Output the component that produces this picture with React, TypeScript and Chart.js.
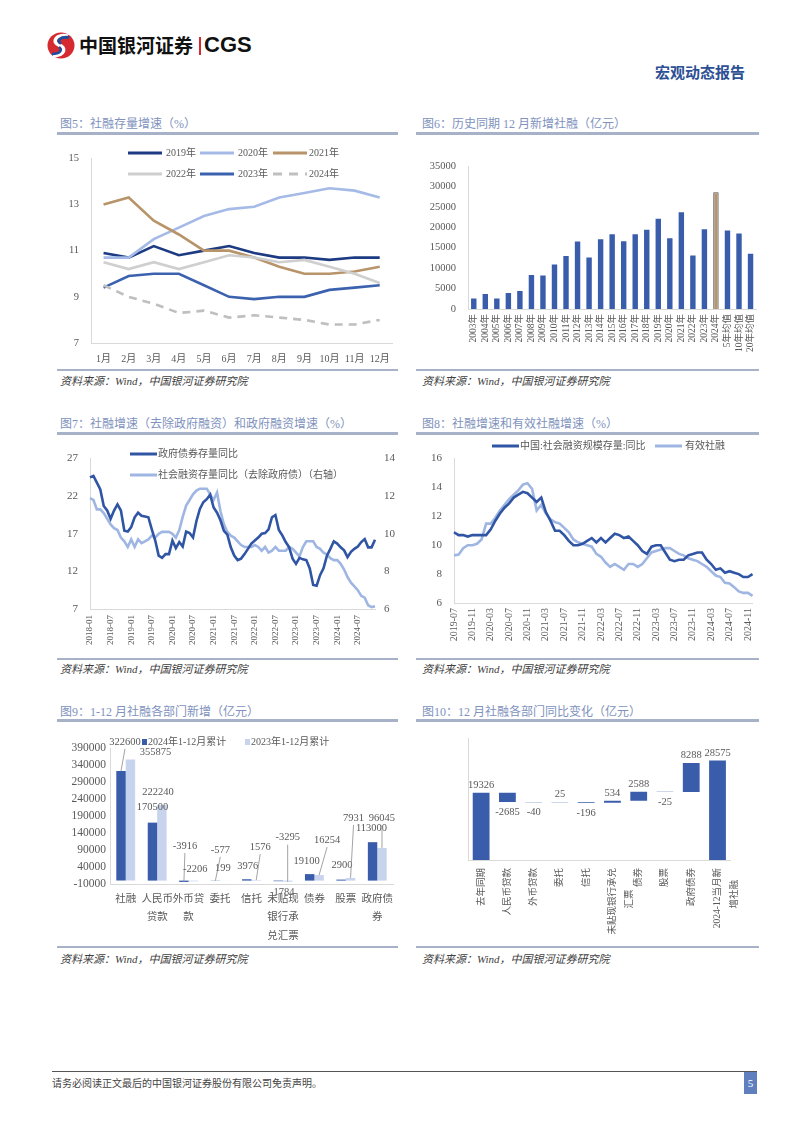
import React, { useEffect, useRef } from "react";
import { Chart, registerables } from "chart.js";
Chart.register(...registerables);

const SERIF = "'Liberation Serif','Noto Sans CJK SC',serif";
const TEXT = "#595959";
const AXIS = "#d9d9d9";
const BLUE = "#3a5dab";
const TITLE_C = "#8092bd";
const LINE_C = "#a7b2c8";

// ---------- 图5 ----------
const months5 = ["1月", "2月", "3月", "4月", "5月", "6月", "7月", "8月", "9月", "10月", "11月", "12月"];
const s2019 = [10.9, 10.7, 11.2, 10.8, 11.0, 11.2, 10.9, 10.7, 10.7, 10.6, 10.7, 10.7];
const s2020 = [10.7, 10.7, 11.5, 12.0, 12.5, 12.8, 12.9, 13.3, 13.5, 13.7, 13.6, 13.3];
const s2021 = [13.0, 13.3, 12.3, 11.7, 11.0, 11.0, 10.7, 10.3, 10.0, 10.0, 10.1, 10.3];
const s2022 = [10.5, 10.2, 10.5, 10.2, 10.5, 10.8, 10.7, 10.5, 10.6, 10.3, 10.0, 9.6];
const s2023 = [9.4, 9.9, 10.0, 10.0, 9.5, 9.0, 8.9, 9.0, 9.0, 9.3, 9.4, 9.5];
const s2024 = [9.5, 9.0, 8.7, 8.3, 8.4, 8.1, 8.2, 8.1, 8.0, 7.8, 7.8, 8.0];

// ---------- 图6 ----------
const years6 = ["2003年", "2004年", "2005年", "2006年", "2007年", "2008年", "2009年", "2010年", "2011年", "2012年", "2013年", "2014年", "2015年", "2016年", "2017年", "2018年", "2019年", "2020年", "2021年", "2022年", "2023年", "2024年", "5年均值", "10年均值", "20年均值"];
const tsfDec6 = [2600, 3700, 2600, 3900, 4400, 8300, 8200, 10900, 13000, 16500, 12600, 17100, 18300, 16600, 18300, 19400, 22100, 17300, 23700, 13100, 19500, 28575, 19200, 18500, 13500];

// ---------- 图7 ----------
const months7: string[] = [];
for (let y = 2018; y <= 2024; y++) for (let m = 1; m <= 12; m++) months7.push(`${y}-${m < 10 ? "0" + m : m}`);
const govBond7 = [
  24.5, 24.7, 23.8, 22.9, 20.7, 20.1, 19.0, 20.1, 20.9, 20.1, 17.4, 17.3,
  17.9, 19.2, 19.8, 19.4, 19.3, 19.2, 17.6, 16.1, 14.1, 13.8, 14.3, 14.3,
  16.1, 15.1, 15.9, 15.3, 17.3, 17.1, 16.5, 18.7, 20.3, 21.2, 21.6, 22.2,
  20.5, 19.8, 18.8, 17.4, 16.9, 15.2, 14.1, 13.5, 13.7, 14.3, 15.0, 15.7,
  16.1, 16.5, 17.0, 17.1, 17.6, 19.2, 19.5, 17.5, 16.8, 15.9, 15.2, 13.7,
  13.0, 13.8, 13.6, 13.5, 12.4, 10.2, 10.1, 11.5, 12.4, 14.1, 15.0, 16.0,
  15.7, 15.2, 14.8, 13.9, 14.6, 15.0, 15.3, 15.9, 16.3, 15.2, 15.2, 16.2,
];
const exGov7 = [
  11.9, 11.8, 11.3, 11.3, 11.1, 10.8, 10.5, 10.3, 10.2, 9.8, 9.6, 9.3,
  9.7, 9.3, 9.7, 9.5, 9.6, 9.7, 9.9, 9.8, 10.0, 10.1, 10.1, 10.1,
  10.0, 9.8, 10.2, 10.9, 11.5, 11.8, 12.1, 12.3, 12.4, 12.4, 12.4, 12.1,
  11.8, 12.2, 11.2, 10.5, 10.1, 9.9, 9.8, 9.6, 9.4, 9.3, 9.3, 9.3,
  9.4, 9.3, 9.1, 9.3, 9.0, 9.1, 9.3, 9.1, 9.1, 9.1, 9.3, 9.2,
  9.0, 8.8, 9.3, 9.6, 9.6, 9.6, 9.3, 9.2, 9.0, 8.9, 8.7, 8.6,
  8.6, 8.4, 8.1, 7.7, 7.4, 7.2, 7.0, 6.7, 6.6, 6.2, 6.1, 6.15,
];

// ---------- 图8 ----------
const months8: string[] = [];
for (let y = 2019; y <= 2024; y++) for (let m = 1; m <= 12; m++) if (y > 2019 || m >= 7) months8.push(`${y}-${m < 10 ? "0" + m : m}`);
const tsf8 = [
  10.9, 10.7, 10.7, 10.6, 10.7, 10.7, 10.7, 10.7, 11.1, 11.7,
  12.2, 12.6, 12.9, 13.3, 13.5, 13.7, 13.6, 13.3, 13.0, 13.3,
  12.3, 11.7, 11.0, 11.0, 10.7, 10.3, 10.0, 10.0, 10.1, 10.3,
  10.5, 10.2, 10.5, 10.2, 10.5, 10.8, 10.7, 10.5, 10.6, 10.3,
  10.0, 9.6, 9.4, 9.9, 10.0, 10.0, 9.5, 9.0, 8.9, 9.0,
  9.0, 9.3, 9.4, 9.5, 9.5, 9.0, 8.7, 8.3, 8.4, 8.1,
  8.2, 8.1, 8.0, 7.8, 7.8, 8.0,
];
const eff8 = [
  9.3, 9.35, 9.8, 10.0, 10.0, 10.1, 10.4, 11.5, 11.5, 11.9,
  12.4, 12.8, 13.2, 13.5, 13.8, 14.2, 14.3, 13.9, 12.4, 12.8,
  12.2, 11.8, 11.6, 11.5, 11.2, 10.9, 10.4, 10.2, 10.1, 10.0,
  9.9, 9.4, 9.2, 8.8, 8.5, 8.7, 8.5, 8.3, 8.7, 8.7,
  8.5, 8.7, 9.1, 9.5, 9.6, 9.7, 9.8, 9.8, 9.6, 9.4,
  9.3, 9.1, 9.0, 8.9, 8.7, 8.5, 8.2, 7.9, 7.8, 7.4,
  7.35, 7.1, 6.8, 6.7, 6.7, 6.5,
];

// ---------- 图9 ----------
const cats9 = [["社融"], ["人民币", "贷款"], ["外币贷", "款"], ["委托"], ["信托"], ["未贴现", "银行承", "兑汇票"], ["债券"], ["股票"], ["政府债", "券"]];
const acc2024 = [322600, 170500, -3916, -577, 3976, -1784, 19100, 2900, 113000];
const acc2023 = [355875, 222240, -2206, 199, 1576, -3295, 16254, 7931, 96045];
// label placement (px offset from bar end, leader line flag)
const lblPos2024 = [[4, -29, 1], [0, -15, 0], [1, -36, 1], [5, -31, 1], [1, -13, 0], [4, 11, 0], [-3, -13, 0], [1, -14, 0], [-1, -14, 0]];
const lblPos2023 = [[25, -7, 0], [-4, -13, 0], [2, -12, 0], [-2, -12, 0], [4, -33, 1], [0, -44, 1], [8, -35, 1], [3, -60, 1], [0, -30, 1]];

// ---------- 图10 ----------
const cats10 = [["去年同期"], ["人民币贷款"], ["外币贷款"], ["委托"], ["信托"], ["未贴现银行承兑", "汇票\u3000\u3000 "], ["债券"], ["股票"], ["政府债券"], ["2024-12当月新", "增社融\u3000 "]];
const base10 = 19326;
const delta10 = [-2685, -40, 25, -196, 534, 2588, -25, 8288];
const total10 = 28575;

function buildWaterfall() {
  const ranges: number[][] = [[0, base10]];
  const values: number[] = [base10];
  let cur = base10;
  for (const d of delta10) {
    ranges.push([Math.min(cur, cur + d), Math.max(cur, cur + d)]);
    values.push(d);
    cur += d;
  }
  ranges.push([0, total10]);
  values.push(total10);
  return { ranges, values };
}

const font = (size: number) => ({ family: SERIF, size });
const plain = (v: any) => String(v);
const noGrid = { display: false, drawTicks: false };
const fixW = (w: number) => (s: any) => { s.width = w; };
const fixH = (h: number) => (s: any) => { s.height = h; };
const base = (padding: any) => ({
  animation: false,
  responsive: false,
  maintainAspectRatio: false,
  layout: { padding },
  plugins: { legend: { display: false }, tooltip: { enabled: false } },
});
const ln = (data: number[], color: string, extra: any = {}) => ({
  data, borderColor: color, backgroundColor: color, borderWidth: 2.6, pointRadius: 0, tension: 0, fill: false, ...extra,
});

const cfg5 = () => ({
  type: "line",
  data: {
    labels: months5,
    datasets: [
      ln(s2019, "#1c3b82"), ln(s2020, "#a5bae6"), ln(s2021, "#b8946a"),
      ln(s2022, "#cfcfcf"), ln(s2023, "#3c62af"), ln(s2024, "#bfbfbf", { borderDash: [8, 6] }),
    ].map((d, i) => ({ ...d, order: 6 - i })),
  },
  options: {
    ...base({ top: 17, right: 7, left: 0, bottom: 0 }),
    scales: {
      x: { offset: true, grid: noGrid, border: { color: AXIS }, ticks: { color: TEXT, font: font(10), padding: 10, maxRotation: 0, autoSkip: false }, afterFit: fixH(27) },
      y: { min: 7, max: 15, grid: noGrid, border: { color: AXIS }, ticks: { stepSize: 2, color: TEXT, font: font(10.5), padding: 12, callback: plain }, afterFit: fixW(31) },
    },
  },
});

const cfg6 = () => ({
  type: "bar",
  data: {
    labels: years6,
    datasets: [{
      data: tsfDec6,
      backgroundColor: years6.map((y) => (y === "2024年" ? "#b39676" : BLUE)),
      borderColor: years6.map((y) => (y === "2024年" ? "#505050" : BLUE)),
      borderWidth: years6.map((y) => (y === "2024年" ? 1 : 0)),
      categoryPercentage: 1,
      barPercentage: 0.47,
    }],
  },
  options: {
    ...base({ top: 26, right: 3, left: 0, bottom: 0 }),
    scales: {
      x: { grid: noGrid, border: { color: AXIS }, ticks: { color: TEXT, font: font(9.5), minRotation: 90, maxRotation: 90, autoSkip: false, padding: 5 }, afterFit: fixH(56) },
      y: { min: 0, max: 35000, grid: noGrid, border: { color: AXIS }, ticks: { stepSize: 5000, color: TEXT, font: font(10.5), padding: 12, callback: plain }, afterFit: fixW(53) },
    },
  },
});

const cfg7 = () => ({
  type: "line",
  data: {
    labels: months7,
    datasets: [
      ln(govBond7, "#2f55a4", { yAxisID: "y", borderWidth: 2.6 }),
      ln(exGov7, "#9fb6e3", { yAxisID: "y1", borderWidth: 2.6 }),
    ],
  },
  options: {
    ...base({ top: 17, right: 0, left: 0, bottom: 0 }),
    scales: {
      x: { grid: noGrid, border: { color: AXIS }, ticks: { color: TEXT, font: font(9), minRotation: 90, maxRotation: 90, autoSkip: false, padding: 6, callback: (_v: any, i: number) => (i % 6 === 0 ? months7[i] : null) }, afterFit: fixH(41) },
      y: { position: "left", min: 7, max: 27, grid: noGrid, border: { color: AXIS }, ticks: { stepSize: 5, color: TEXT, font: font(11), padding: 12, callback: plain }, afterFit: fixW(30) },
      y1: { position: "right", min: 6, max: 14, grid: noGrid, border: { display: false }, ticks: { stepSize: 2, color: TEXT, font: font(11), padding: 9, callback: plain }, afterFit: fixW(25) },
    },
  },
});

const cfg8 = () => ({
  type: "line",
  data: {
    labels: months8,
    datasets: [
      ln(tsf8, "#2f55a4", { borderWidth: 2.6 }),
      ln(eff8, "#9fb6e3", { borderWidth: 2.6 }),
    ],
  },
  options: {
    ...base({ top: 17, right: 4, left: 0, bottom: 0 }),
    scales: {
      x: { grid: noGrid, border: { color: AXIS }, ticks: { color: TEXT, font: font(10), minRotation: 90, maxRotation: 90, autoSkip: false, padding: 5, callback: (_v: any, i: number) => (i % 4 === 0 ? months8[i] : null) }, afterFit: fixH(47) },
      y: { min: 6, max: 16, grid: noGrid, border: { color: AXIS }, ticks: { stepSize: 2, color: TEXT, font: font(11), padding: 12, callback: plain }, afterFit: fixW(39) },
    },
  },
});

const labels9Plugin = {
  id: "labels9",
  afterDatasetsDraw(chart: any) {
    const ctx = chart.ctx;
    ctx.save();
    ctx.font = `10.5px ${SERIF}`;
    ctx.fillStyle = TEXT;
    ctx.textAlign = "center";
    ctx.textBaseline = "middle";
    ctx.strokeStyle = "#8c8c8c";
    ctx.lineWidth = 0.8;
    const pos = [lblPos2024, lblPos2023];
    chart.data.datasets.forEach((ds: any, di: number) => {
      const meta = chart.getDatasetMeta(di);
      meta.data.forEach((bar: any, i: number) => {
        const [dx, dy, lead] = pos[di][i];
        const lx = bar.x + dx;
        const ly = bar.y + dy;
        if (lead) {
          ctx.beginPath();
          ctx.moveTo(lx, ly + 7);
          ctx.lineTo(bar.x, bar.y);
          ctx.stroke();
        }
        ctx.fillText(String(ds.data[i]), lx, ly);
      });
    });
    ctx.restore();
  },
};

const cfg9 = () => ({
  type: "bar",
  data: {
    labels: cats9,
    datasets: [
      { data: acc2024, backgroundColor: BLUE, categoryPercentage: 0.6, barPercentage: 1 },
      { data: acc2023, backgroundColor: "#c8d4ed", categoryPercentage: 0.6, barPercentage: 1 },
    ],
  },
  options: {
    ...base({ top: 23, right: 7, left: 0, bottom: 0 }),
    scales: {
      x: { grid: noGrid, border: { color: AXIS }, ticks: { color: TEXT, font: { family: SERIF, size: 10.5, lineHeight: 1.75 }, padding: 6, maxRotation: 0, autoSkip: false }, afterFit: fixH(63) },
      y: { min: -10000, max: 390000, grid: noGrid, border: { color: AXIS }, ticks: { stepSize: 50000, color: TEXT, font: font(11.5), padding: 4, callback: plain }, afterFit: fixW(50) },
    },
  },
  plugins: [labels9Plugin],
});

const cfg10 = () => {
  const { ranges, values } = buildWaterfall();
  const plugin = {
    id: "labels10",
    afterDatasetsDraw(chart: any) {
      const ctx = chart.ctx;
      ctx.save();
      ctx.font = `10.5px ${SERIF}`;
      ctx.fillStyle = TEXT;
      ctx.textAlign = "center";
      ctx.textBaseline = "middle";
      chart.getDatasetMeta(0).data.forEach((bar: any, i: number) => {
        const top = Math.min(bar.y, bar.base);
        const bottom = Math.max(bar.y, bar.base);
        const v = values[i];
        ctx.fillText(String(v), bar.x, v >= 0 ? top - 7.5 : bottom + 10.5);
      });
      ctx.restore();
    },
  };
  return {
    type: "bar",
    data: {
      labels: cats10,
      datasets: [{ data: ranges, backgroundColor: BLUE, categoryPercentage: 1, barPercentage: 0.64 }],
    },
    options: {
      ...base({ top: 13, right: 6, left: 0, bottom: 0 }),
      scales: {
        x: { grid: noGrid, border: { color: AXIS }, ticks: { color: TEXT, font: { family: SERIF, size: 9.5, lineHeight: 1.8 }, minRotation: 90, maxRotation: 90, autoSkip: false, padding: 8 }, afterFit: fixH(87) },
        y: { min: 0, max: 35000, grid: noGrid, border: { color: AXIS }, ticks: { display: false }, afterFit: fixW(53) },
      },
    },
    plugins: [plugin],
  };
};

function ChartCanvas({ left, top, width, height, make }: { left: number; top: number; width: number; height: number; make: () => any }) {
  const ref = useRef<HTMLCanvasElement | null>(null);
  useEffect(() => {
    const c = new Chart(ref.current as HTMLCanvasElement, make());
    return () => c.destroy();
  }, []);
  return <canvas ref={ref} width={width} height={height} style={{ position: "absolute", left, top, width, height }} />;
}

function LegLine({ x, y, w, color, dash, label, tx, size = 10 }: any) {
  return (
    <>
      <svg style={{ position: "absolute", left: x, top: y - 3 }} width={w} height={6}>
        <line x1={0} y1={3} x2={w} y2={3} stroke={color} strokeWidth={3} strokeDasharray={dash || undefined} />
      </svg>
      <div style={{ position: "absolute", left: tx, top: y - 8, height: 16, lineHeight: "16px", fontFamily: SERIF, fontSize: size, color: TEXT, whiteSpace: "nowrap" }}>{label}</div>
    </>
  );
}

function LegBox({ x, y, color, label }: any) {
  return (
    <>
      <div style={{ position: "absolute", left: x, top: y - 3, width: 5, height: 6, background: color }} />
      <div style={{ position: "absolute", left: x + 6, top: y - 8, height: 16, lineHeight: "16px", fontFamily: SERIF, fontSize: 10, color: TEXT, whiteSpace: "nowrap" }}>{label}</div>
    </>
  );
}

const rows = [
  { titles: ["图5：社融存量增速（%）", "图6：历史同期 12 月新增社融（亿元）"], titleY: 124, lineY: 133, bottomY: 370, srcY: 381 },
  { titles: ["图7：社融增速（去除政府融资）和政府融资增速（%）", "图8：社融增速和有效社融增速（%）"], titleY: 424, lineY: 433, bottomY: 659, srcY: 669 },
  { titles: ["图9：1-12 月社融各部门新增（亿元）", "图10：12 月社融各部门同比变化（亿元）"], titleY: 712, lineY: 720, bottomY: 947, srcY: 959 },
];
const cols = [{ tx: 60, l: 57, r: 398 }, { tx: 422, l: 416, r: 759 }];

export default function App() {
  return (
    <div style={{ position: "absolute", left: 0, top: 0, width: 802, height: 1133, background: "#fff", overflow: "hidden" }}>
      {/* header */}
      <svg style={{ position: "absolute", left: 46, top: 31 }} width={30} height={29} viewBox="0 0 30 29">
        <ellipse cx="15" cy="14.5" rx="13.5" ry="13" fill="#d52b30" />
        <path d="M22 5 C 10 3, 5 11, 13 14 C 21 17, 19 24, 7 25" stroke="#fff" strokeWidth="3.5" fill="none" />
        <path d="M23 6.5 C 14 5.5, 10 10, 15 12.5" stroke="#1e4f9e" strokeWidth="3" fill="none" />
        <path d="M6 23 C 14 23, 17 19, 13 16" stroke="#1e4f9e" strokeWidth="2.5" fill="none" />
      </svg>
      <div style={{ position: "absolute", left: 79, top: 33, fontFamily: "'Noto Sans CJK SC',sans-serif", fontWeight: 700, fontSize: 19, lineHeight: "24px", color: "#111" }}>中国银河证券</div>
      <div style={{ position: "absolute", left: 199, top: 37, width: 1.5, height: 18, background: "#d52b30" }} />
      <div style={{ position: "absolute", left: 204, top: 32, fontFamily: "'Liberation Sans',Arial,sans-serif", fontWeight: 700, fontSize: 22, lineHeight: "26px", color: "#111" }}>CGS</div>
      <div style={{ position: "absolute", left: 655, top: 62, fontFamily: "'Noto Sans CJK SC',sans-serif", fontWeight: 700, fontSize: 15, lineHeight: "20px", color: "#2d4f94" }}>宏观动态报告</div>

      {rows.map((r, ri) =>
        cols.map((c, ci) => (
          <React.Fragment key={`${ri}-${ci}`}>
            <div style={{ position: "absolute", left: c.tx, top: r.titleY - 9, height: 18, lineHeight: "18px", fontFamily: SERIF, fontSize: 12, color: TITLE_C, whiteSpace: "nowrap" }}>{r.titles[ci]}</div>
            <div style={{ position: "absolute", left: c.l, top: r.lineY - 1.5, width: c.r - c.l, height: 3, background: LINE_C }} />
            <div style={{ position: "absolute", left: c.l, top: r.bottomY - 1, width: c.r - c.l, height: 2, background: LINE_C }} />
            <div style={{ position: "absolute", left: c.tx, top: r.srcY - 8, height: 16, lineHeight: "16px", fontFamily: SERIF, fontSize: 11, fontStyle: "italic", color: "#404040", whiteSpace: "nowrap" }}>资料来源：Wind，中国银河证券研究院</div>
          </React.Fragment>
        ))
      )}

      {/* charts */}
      <ChartCanvas left={60} top={140} width={340} height={230} make={cfg5} />
      <ChartCanvas left={415} top={140} width={352} height={225} make={cfg6} />
      <ChartCanvas left={60} top={440} width={340} height={210} make={cfg7} />
      <ChartCanvas left={415} top={440} width={350} height={210} make={cfg8} />
      <ChartCanvas left={60} top={725} width={340} height={222} make={cfg9} />
      <ChartCanvas left={415} top={725} width={345} height={222} make={cfg10} />

      {/* legends 图5 */}
      <LegLine x={128} y={153} w={34} color="#1c3b82" label="2019年" tx={166} />
      <LegLine x={200} y={153} w={34} color="#a5bae6" label="2020年" tx={238} />
      <LegLine x={273} y={153} w={34} color="#b8946a" label="2021年" tx={309} />
      <LegLine x={128} y={174} w={34} color="#cfcfcf" label="2022年" tx={166} />
      <LegLine x={200} y={174} w={34} color="#3c62af" label="2023年" tx={238} />
      <LegLine x={273} y={174} w={34} color="#bfbfbf" dash="9 7" label="2024年" tx={309} />
      {/* legends 图7 */}
      <LegLine x={130} y={454} w={27} color="#2f55a4" label="政府债券存量同比" tx={158} />
      <LegLine x={130} y={475} w={27} color="#9fb6e3" label="社会融资存量同比（去除政府债）（右轴）" tx={158} />
      {/* legends 图8 */}
      <LegLine x={492} y={446} w={27} color="#2f55a4" label="中国:社会融资规模存量:同比" tx={520} />
      <LegLine x={655} y={446} w={27} color="#9fb6e3" label="有效社融" tx={685} />
      {/* legends 图9 */}
      <LegBox x={142} y={742} color={BLUE} label="2024年1-12月累计" />
      <LegBox x={245} y={742} color="#c8d4ed" label="2023年1-12月累计" />

      {/* footer */}
      <div style={{ position: "absolute", left: 52, top: 1071, width: 705, height: 1, background: "#555" }} />
      <div style={{ position: "absolute", left: 52, top: 1076, height: 16, lineHeight: "16px", fontFamily: SERIF, fontSize: 10, color: "#444", whiteSpace: "nowrap" }}>请务必阅读正文最后的中国银河证券股份有限公司免责声明。</div>
      <div style={{ position: "absolute", left: 744, top: 1072, width: 13, height: 22, background: "#5f7fbf", color: "#fff", fontFamily: SERIF, fontSize: 11, lineHeight: "22px", textAlign: "center" }}>5</div>
    </div>
  );
}
